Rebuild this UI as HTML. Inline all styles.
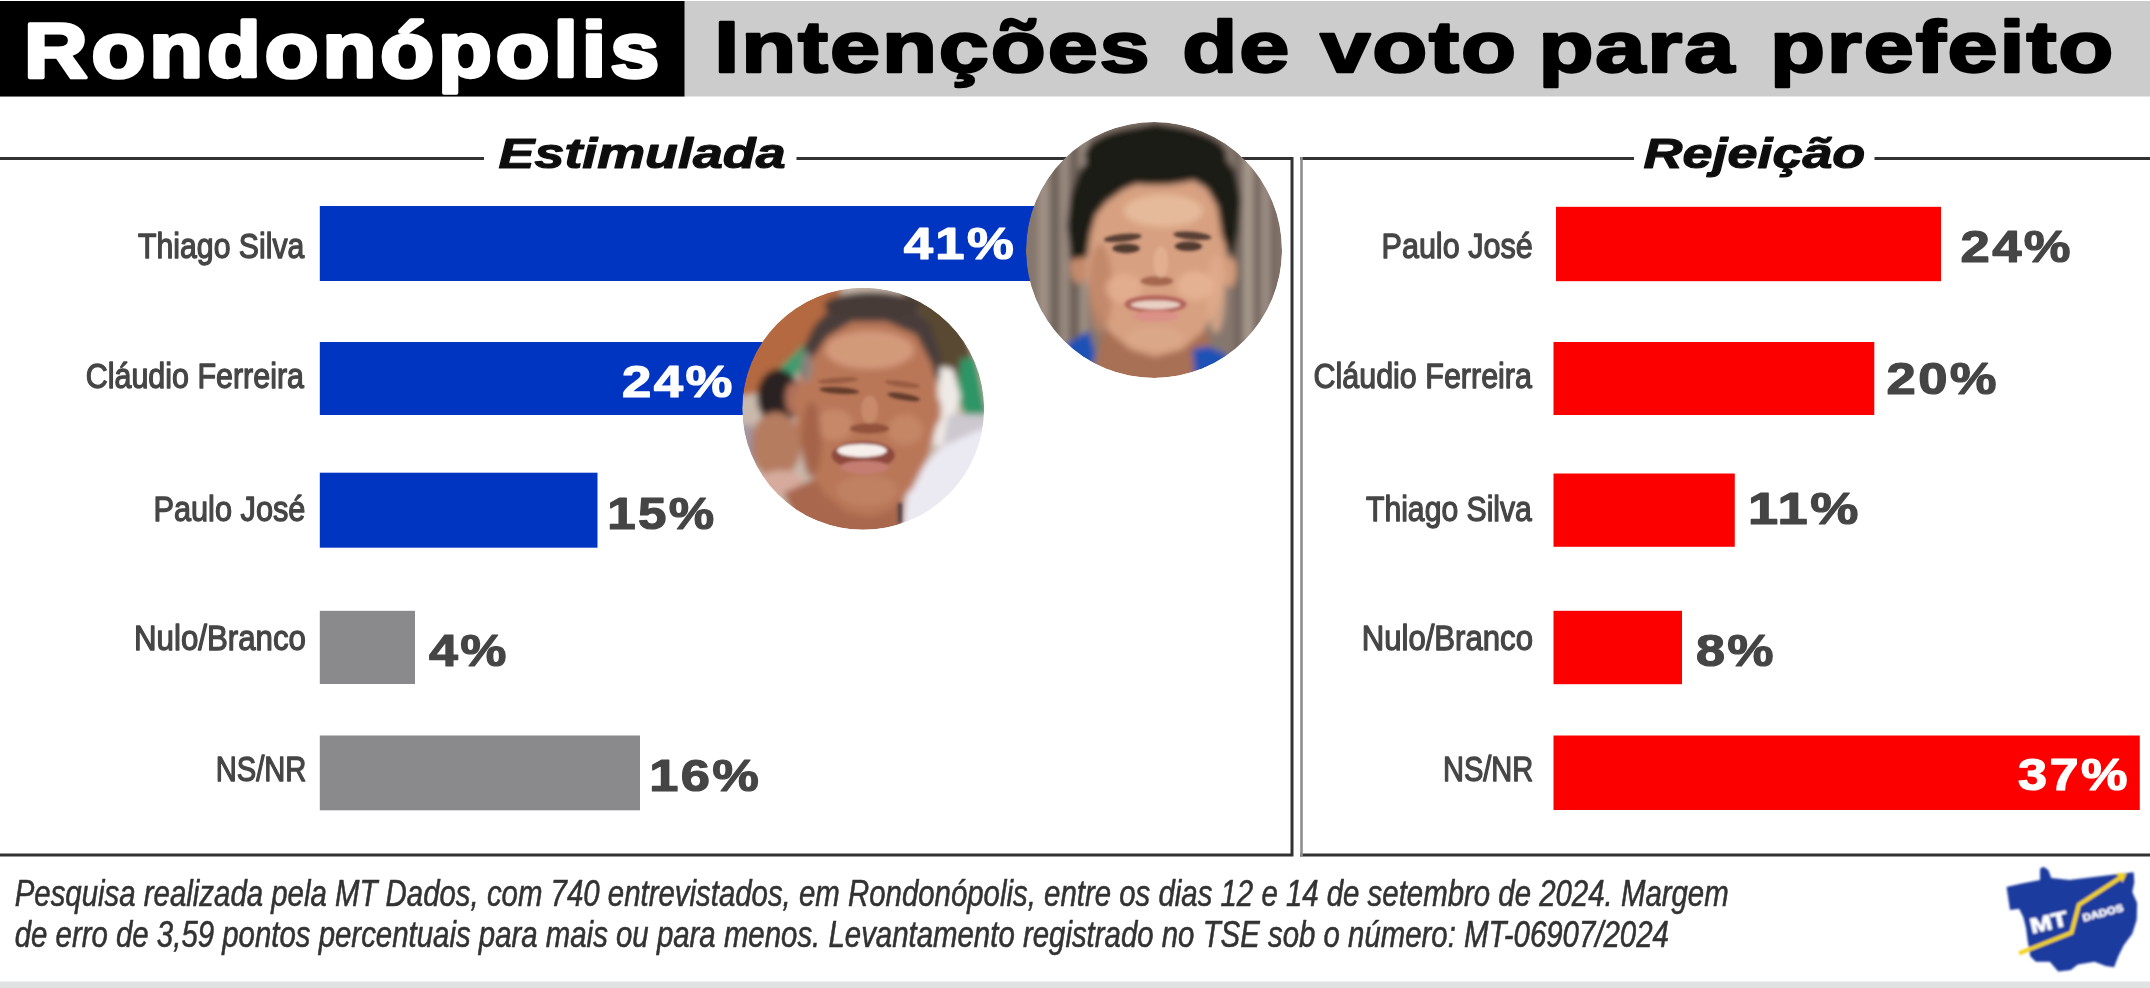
<!DOCTYPE html>
<html lang="pt-BR"><head><meta charset="utf-8"><title>Rondonópolis — Intenções de voto para prefeito</title>
<style>html,body{margin:0;padding:0;background:#fff;overflow:hidden}svg{display:block}text{font-family:"Liberation Sans",sans-serif}</style></head>
<body>
<svg width="2150" height="988" viewBox="0 0 2150 988">
<g filter="url(#soft)">
<rect x="0" y="0" width="2150" height="988" fill="#fff"/>
<rect x="0" y="1" width="2150" height="95.5" fill="#cccccc"/>
<rect x="0" y="1" width="684.5" height="95.5" fill="#000"/>
<rect x="-10" y="158.5" width="1302" height="696.5" fill="none" stroke="#333333" stroke-width="3"/>
<rect x="1300" y="157" width="860" height="3" fill="#333333"/>
<rect x="1300" y="853.5" width="860" height="3" fill="#333333"/>
<rect x="1300.2" y="157" width="2.6" height="699.5" fill="#8e8e8e"/>
<rect x="484" y="150" width="312.5" height="20" fill="#fff"/>
<rect x="1634" y="150" width="240.5" height="20" fill="#fff"/>
<rect x="319.8" y="206" width="780.2" height="75" fill="#0634c2"/>
<rect x="319.8" y="342" width="480.2" height="73" fill="#0634c2"/>
<rect x="319.8" y="472.7" width="277.7" height="75.00000000000006" fill="#0634c2"/>
<rect x="319.8" y="610.8" width="95.19999999999999" height="73.20000000000005" fill="#8a8a8c"/>
<rect x="319.8" y="735.5" width="320.2" height="74.79999999999995" fill="#8a8a8c"/>
<rect x="1556" y="206.8" width="385" height="74.39999999999998" fill="#fc0505"/>
<rect x="1553.5" y="342" width="320.79999999999995" height="73" fill="#fc0505"/>
<rect x="1553.5" y="473.5" width="181.29999999999995" height="73.29999999999995" fill="#fc0505"/>
<rect x="1553.5" y="610.8" width="128.5" height="73.40000000000009" fill="#fc0505"/>
<rect x="1553.5" y="735.5" width="586.3000000000002" height="74.5" fill="#fc0505"/>
<rect x="0" y="981.5" width="2150" height="7" fill="#e1e2e4"/>
<defs><filter id="bl1" filterUnits="userSpaceOnUse" x="980" y="80" width="350" height="350"><feGaussianBlur stdDeviation="3.2"/></filter><filter id="bl1s" filterUnits="userSpaceOnUse" x="980" y="80" width="350" height="350"><feGaussianBlur stdDeviation="1.8"/></filter><filter id="bl2" filterUnits="userSpaceOnUse" x="700" y="240" width="330" height="330"><feGaussianBlur stdDeviation="3.2"/></filter><filter id="bl2s" filterUnits="userSpaceOnUse" x="700" y="240" width="330" height="330"><feGaussianBlur stdDeviation="1.8"/></filter><filter id="lg" filterUnits="userSpaceOnUse" x="1990" y="858" width="160" height="125"><feGaussianBlur stdDeviation="0.8"/></filter><filter id="lgs" x="-10%" y="-10%" width="120%" height="120%"><feGaussianBlur stdDeviation="5"/></filter><filter id="edge" x="-5%" y="-5%" width="110%" height="110%"><feGaussianBlur stdDeviation="0.7"/></filter><clipPath id="c1"><circle cx="1154" cy="250" r="128"/></clipPath><clipPath id="c2"><circle cx="863.2" cy="408.8" r="121"/></clipPath></defs>
<defs><filter id="soft" filterUnits="userSpaceOnUse" x="0" y="0" width="2150" height="988"><feGaussianBlur stdDeviation="0.55"/></filter></defs>
<g clip-path="url(#c2)"><g filter="url(#edge)"><g clip-path="url(#c2)"><g filter="url(#bl2)"><g transform="translate(738,283) scale(0.25304)"><rect x="-50" y="-50" width="1100" height="1100" fill="#c9b9ac"/><polygon points="0,0 420,0 330,200 250,330 150,420 0,450" fill="#b4693f"/><polygon points="150,350 290,215 310,260 200,400" fill="#3f9c6e"/><ellipse cx="160" cy="450" rx="85" ry="110" fill="#2b2321"/><ellipse cx="150" cy="640" rx="100" ry="130" fill="#b57b60"/><ellipse cx="170" cy="790" rx="90" ry="50" fill="#d6ab9e"/><rect x="0" y="560" width="60" height="200" fill="#8c7f9a" opacity="0.6"/><polygon points="640,20 760,40 900,180 935,330 860,420 790,380 740,150" fill="#5a4a32"/><polygon points="880,300 940,290 985,520 900,530 860,440" fill="#2f9566"/><polygon points="800,330 850,340 880,450 820,640 770,640" fill="#efeae6"/><polygon points="830,520 990,520 990,700 800,700" fill="#cdc8cf"/><polygon points="640,980 680,780 800,650 1000,560 1000,1000" fill="#ebe9f2"/><polygon points="180,830 330,760 660,800 650,1000 250,1000" fill="#a9684d"/><ellipse cx="215" cy="455" rx="28" ry="62" fill="#b0715a"/><ellipse cx="782" cy="505" rx="22" ry="55" fill="#b97a60"/><polygon points="250,330 222,470 235,600 275,720 340,830 430,905 520,925 610,895 690,810 750,690 785,560 790,430 770,300 700,190 580,140 440,145 330,215" fill="#b97759"/><ellipse cx="520" cy="265" rx="175" ry="75" fill="#d39a7a"/><ellipse cx="380" cy="560" rx="75" ry="60" fill="#c98a6b" opacity="0.9"/><ellipse cx="660" cy="580" rx="70" ry="60" fill="#c68767" opacity="0.9"/><ellipse cx="510" cy="820" rx="120" ry="60" fill="#c18264" opacity="0.9"/><ellipse cx="290" cy="620" rx="40" ry="150" fill="#9c5d44" opacity="0.7"/><polygon points="245,360 262,250 300,170 380,85 520,38 660,65 762,165 805,300 790,400 765,320 705,205 585,152 450,152 352,212 292,302 262,380" fill="#493e3a"/><ellipse cx="530" cy="90" rx="190" ry="55" fill="#463b37"/><ellipse cx="272" cy="330" rx="22" ry="60" fill="#908782" opacity="0.9"/></g></g><g filter="url(#bl2s)"><g transform="translate(738,283) scale(0.25304)"><ellipse cx="400" cy="425" rx="78" ry="13" fill="#5a3325" opacity="0.9" transform="rotate(4 400 425)"/><ellipse cx="655" cy="450" rx="65" ry="13" fill="#5a3325" opacity="0.9" transform="rotate(10 655 450)"/><ellipse cx="395" cy="385" rx="80" ry="12" fill="#8a5038" opacity="0.7" transform="rotate(-4 395 385)"/><ellipse cx="650" cy="400" rx="70" ry="12" fill="#8a5038" opacity="0.7" transform="rotate(8 650 400)"/><ellipse cx="520" cy="575" rx="78" ry="20" fill="#8a4b36" opacity="0.85"/><ellipse cx="520" cy="500" rx="34" ry="55" fill="#cf9273" opacity="0.7"/><ellipse cx="495" cy="680" rx="125" ry="55" fill="#8e4a3d"/><ellipse cx="490" cy="662" rx="98" ry="26" fill="#f6efeb"/><ellipse cx="500" cy="728" rx="96" ry="26" fill="#c57d72"/><polygon points="632,870 648,870 648,950 632,950" fill="#3a3338" opacity="0.8"/></g></g></g></g></g>
<g clip-path="url(#c1)"><g filter="url(#edge)"><g clip-path="url(#c1)"><g filter="url(#bl1)"><g transform="translate(1024,120) scale(0.26316)"><rect x="-50" y="-50" width="1100" height="1100" fill="#86776d"/><rect x="55" y="-20" width="40" height="1030" fill="#a39488" opacity="0.9"/><rect x="100" y="-20" width="35" height="1030" fill="#6c5f57" opacity="0.9"/><rect x="138" y="-20" width="32" height="1030" fill="#9d8e83" opacity="0.9"/><rect x="172" y="-20" width="38" height="1030" fill="#6a5d55" opacity="0.9"/><rect x="212" y="-20" width="30" height="1030" fill="#a19286" opacity="0.9"/><rect x="800" y="-20" width="30" height="1030" fill="#6f625a" opacity="0.9"/><rect x="832" y="-20" width="40" height="1030" fill="#a89a8e" opacity="0.9"/><rect x="874" y="-20" width="26" height="1030" fill="#6b5e56" opacity="0.9"/><rect x="900" y="-20" width="34" height="1030" fill="#9f9085" opacity="0.9"/><rect x="936" y="-20" width="30" height="1030" fill="#74665e" opacity="0.9"/><polygon points="300,800 700,800 720,1000 260,1000" fill="#a87055"/><polygon points="150,860 245,800 270,880 250,1000 150,1000" fill="#1f51b6"/><polygon points="640,870 700,860 770,890 770,1000 650,1000" fill="#1f51b6"/><ellipse cx="208" cy="560" rx="32" ry="62" fill="#c48a6b"/><ellipse cx="782" cy="575" rx="26" ry="62" fill="#d19b7b"/><polygon points="240,430 235,600 262,710 325,805 405,872 500,900 600,872 682,802 740,700 768,600 765,440 720,280 600,200 420,210 290,300" fill="#d7a081"/><ellipse cx="290" cy="640" rx="45" ry="170" fill="#bd8365" opacity="0.8"/><ellipse cx="730" cy="660" rx="35" ry="150" fill="#e0ab8c" opacity="0.8"/><ellipse cx="530" cy="345" rx="150" ry="62" fill="#e8be9f" opacity="0.85"/><ellipse cx="380" cy="640" rx="70" ry="55" fill="#e3ad8f" opacity="0.9"/><ellipse cx="650" cy="630" rx="70" ry="55" fill="#e6b294" opacity="0.9"/><ellipse cx="500" cy="830" rx="110" ry="45" fill="#dca78a" opacity="0.9"/><polygon points="178,530 162,400 175,295 212,192 284,100 396,33 500,12 624,33 730,100 802,192 824,300 814,425 790,535 752,440 735,330 692,255 600,205 480,222 380,262 312,312 272,362 252,432 240,520" fill="#1f1a18"/><ellipse cx="500" cy="135" rx="270" ry="112" fill="#1f1a18"/></g></g><g filter="url(#bl1s)"><g transform="translate(1024,120) scale(0.26316)"><ellipse cx="375" cy="448" rx="72" ry="15" fill="#3a261f" opacity="0.8" transform="rotate(-6 375 448)"/><ellipse cx="640" cy="440" rx="72" ry="15" fill="#3a261f" opacity="0.8" transform="rotate(5 640 440)"/><ellipse cx="388" cy="488" rx="52" ry="18" fill="#2e1f1a" opacity="0.8"/><ellipse cx="625" cy="480" rx="52" ry="18" fill="#2e1f1a" opacity="0.8"/><ellipse cx="505" cy="612" rx="62" ry="18" fill="#9c5e47" opacity="0.85"/><ellipse cx="520" cy="540" rx="28" ry="60" fill="#e6b597" opacity="0.7"/><ellipse cx="500" cy="700" rx="118" ry="34" fill="#b4655b"/><ellipse cx="500" cy="702" rx="94" ry="16" fill="#e9d0c4"/><ellipse cx="500" cy="745" rx="88" ry="22" fill="#dc9087" opacity="0.9"/></g></g></g></g></g>
<g filter="url(#lg)"><g transform="translate(1980,850) scale(0.13968)"><g><polygon points="190,265 300,240 430,215 430,135 455,120 490,145 510,200 640,215 860,188 1100,160 1105,230 1090,300 1125,380 1122,500 1090,600 1030,680 990,760 960,840 900,830 820,800 700,820 650,860 560,870 500,800 400,800 360,760 340,640 330,560 310,480 280,420 215,430 200,330" fill="#1b3b9e"/><polyline points="280,740 655,592 708,392 1010,195" fill="none" stroke="#f2d21f" stroke-width="30" stroke-linejoin="miter"/><polygon points="975,165 1050,170 1020,235" fill="#f2d21f"/></g><g><text transform="translate(372,598) rotate(-13) scale(1.25,1)" font-family="Liberation Sans" font-weight="bold" font-size="150" fill="#fff" stroke="#fff" stroke-width="6">MT</text><text transform="translate(742,512) rotate(-15) scale(1.15,1)" font-family="Liberation Sans" font-weight="bold" font-size="72" fill="#fff" stroke="#fff" stroke-width="4">DADOS</text></g></g></g>
<text transform="translate(24.00,76.60) scale(1.1290,1)" font-family="Liberation Sans" font-size="78" font-weight="bold" letter-spacing="3.5" fill="#fff" stroke="#fff" stroke-width="3.6" stroke-linejoin="round">Rondonópolis</text>
<text transform="translate(498.60,168.40) scale(1.2515,1)" font-family="Liberation Sans" font-size="43" font-weight="bold" font-style="italic" fill="#111" stroke="#111" stroke-width="1.2" stroke-linejoin="round">Estimulada</text>
<text transform="translate(1643.60,168.40) scale(1.2534,1)" font-family="Liberation Sans" font-size="43" font-weight="bold" font-style="italic" fill="#111" stroke="#111" stroke-width="1.2" stroke-linejoin="round">Rejeição</text>
<text transform="translate(138.00,258.40) scale(0.8520,1)" font-family="Liberation Sans" font-size="35.5" font-weight="normal" fill="#454545" stroke="#454545" stroke-width="1.3" stroke-linejoin="round">Thiago Silva</text>
<text transform="translate(85.70,388.20) scale(0.8579,1)" font-family="Liberation Sans" font-size="35.5" font-weight="normal" fill="#454545" stroke="#454545" stroke-width="1.3" stroke-linejoin="round">Cláudio Ferreira</text>
<text transform="translate(153.40,520.80) scale(0.8659,1)" font-family="Liberation Sans" font-size="35.5" font-weight="normal" fill="#454545" stroke="#454545" stroke-width="1.3" stroke-linejoin="round">Paulo José</text>
<text transform="translate(134.00,650.40) scale(0.8802,1)" font-family="Liberation Sans" font-size="35.5" font-weight="normal" fill="#454545" stroke="#454545" stroke-width="1.3" stroke-linejoin="round">Nulo/Branco</text>
<text transform="translate(215.70,781.00) scale(0.8215,1)" font-family="Liberation Sans" font-size="35.5" font-weight="normal" fill="#454545" stroke="#454545" stroke-width="1.3" stroke-linejoin="round">NS/NR</text>
<text transform="translate(1381.50,258.40) scale(0.8613,1)" font-family="Liberation Sans" font-size="35.5" font-weight="normal" fill="#454545" stroke="#454545" stroke-width="1.3" stroke-linejoin="round">Paulo José</text>
<text transform="translate(1313.50,388.20) scale(0.8583,1)" font-family="Liberation Sans" font-size="35.5" font-weight="normal" fill="#454545" stroke="#454545" stroke-width="1.3" stroke-linejoin="round">Cláudio Ferreira</text>
<text transform="translate(1366.00,520.80) scale(0.8495,1)" font-family="Liberation Sans" font-size="35.5" font-weight="normal" fill="#454545" stroke="#454545" stroke-width="1.3" stroke-linejoin="round">Thiago Silva</text>
<text transform="translate(1361.70,650.40) scale(0.8771,1)" font-family="Liberation Sans" font-size="35.5" font-weight="normal" fill="#454545" stroke="#454545" stroke-width="1.3" stroke-linejoin="round">Nulo/Branco</text>
<text transform="translate(1443.00,781.00) scale(0.8178,1)" font-family="Liberation Sans" font-size="35.5" font-weight="normal" fill="#454545" stroke="#454545" stroke-width="1.3" stroke-linejoin="round">NS/NR</text>
<text transform="translate(903.70,259.40) scale(1.1837,1)" font-family="Liberation Sans" font-size="44.5" font-weight="bold" letter-spacing="2" fill="#fff" stroke="#fff" stroke-width="1.2" stroke-linejoin="round">41%</text>
<text transform="translate(622.00,396.80) scale(1.1858,1)" font-family="Liberation Sans" font-size="44.5" font-weight="bold" letter-spacing="2" fill="#fff" stroke="#fff" stroke-width="1.2" stroke-linejoin="round">24%</text>
<text transform="translate(607.20,528.50) scale(1.1490,1)" font-family="Liberation Sans" font-size="44.5" font-weight="bold" letter-spacing="2" fill="#444444" stroke="#444444" stroke-width="1.2" stroke-linejoin="round">15%</text>
<text transform="translate(429.00,665.80) scale(1.1667,1)" font-family="Liberation Sans" font-size="44.5" font-weight="bold" letter-spacing="2" fill="#444444" stroke="#444444" stroke-width="1.2" stroke-linejoin="round">4%</text>
<text transform="translate(649.30,790.80) scale(1.1789,1)" font-family="Liberation Sans" font-size="44.5" font-weight="bold" letter-spacing="2" fill="#444444" stroke="#444444" stroke-width="1.2" stroke-linejoin="round">16%</text>
<text transform="translate(1960.60,262.00) scale(1.1825,1)" font-family="Liberation Sans" font-size="44.5" font-weight="bold" letter-spacing="2" fill="#444444" stroke="#444444" stroke-width="1.2" stroke-linejoin="round">24%</text>
<text transform="translate(1886.60,393.80) scale(1.1825,1)" font-family="Liberation Sans" font-size="44.5" font-weight="bold" letter-spacing="2" fill="#444444" stroke="#444444" stroke-width="1.2" stroke-linejoin="round">20%</text>
<text transform="translate(1748.00,524.20) scale(1.2182,1)" font-family="Liberation Sans" font-size="44.5" font-weight="bold" letter-spacing="2" fill="#444444" stroke="#444444" stroke-width="1.2" stroke-linejoin="round">11%</text>
<text transform="translate(1696.00,666.00) scale(1.1692,1)" font-family="Liberation Sans" font-size="44.5" font-weight="bold" letter-spacing="2" fill="#444444" stroke="#444444" stroke-width="1.2" stroke-linejoin="round">8%</text>
<text transform="translate(2018.00,789.60) scale(1.1759,1)" font-family="Liberation Sans" font-size="44.5" font-weight="bold" letter-spacing="2" fill="#fff" stroke="#fff" stroke-width="1.2" stroke-linejoin="round">37%</text>
<text transform="translate(14.70,906.00) scale(0.7840,1)" font-family="Liberation Sans" font-size="37.5" font-weight="normal" font-style="italic" fill="#333333" stroke="#333333" stroke-width="0.6" stroke-linejoin="round">Pesquisa realizada pela MT Dados, com 740 entrevistados, em Rondonópolis, entre os dias 12 e 14 de setembro de 2024. Margem</text>
<text transform="translate(14.70,946.60) scale(0.7840,1)" font-family="Liberation Sans" font-size="37.5" font-weight="normal" font-style="italic" fill="#333333" stroke="#333333" stroke-width="0.6" stroke-linejoin="round">de erro de 3,59 pontos percentuais para mais ou para menos. Levantamento registrado no TSE sob o número: MT-06907/2024</text>
<text transform="translate(0,72) scale(1.2346,1)" font-family="Liberation Sans" font-size="73" font-weight="bold" letter-spacing="1.5" fill="#000" stroke="#000" stroke-width="2.4" stroke-linejoin="round"><tspan x="578.55">Intenções</tspan> <tspan x="957.67">de</tspan> <tspan x="1069.33">voto</tspan> <tspan x="1246.07">para</tspan> <tspan x="1433.63">prefeito</tspan></text>
</g>
</svg>
</body></html>
